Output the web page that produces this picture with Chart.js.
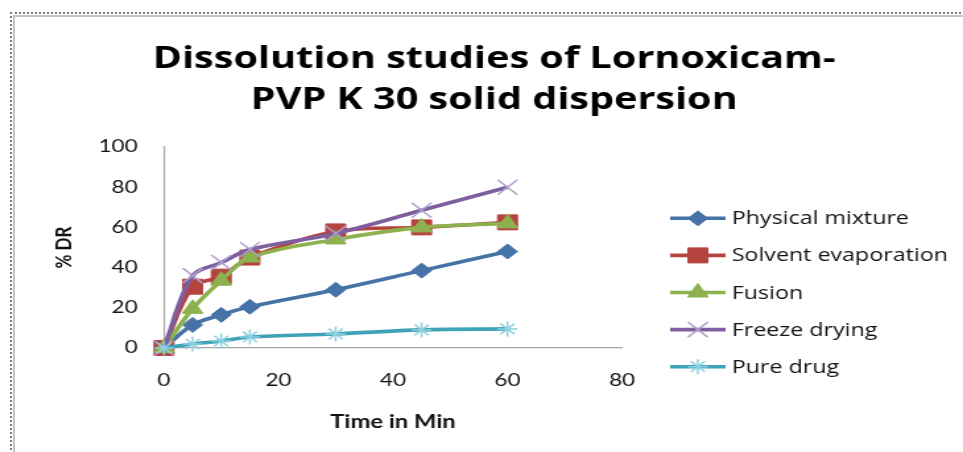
<!DOCTYPE html>
<html>
<head>
<meta charset="utf-8">
<script src="https://cdn.jsdelivr.net/npm/chart.js@4.4.1/dist/chart.umd.min.js"></script>
<style>
  html, body { margin: 0; padding: 0; background: #fff; overflow: hidden; }
  body { width: 963px; height: 452px; position: relative; }
  /* the chart is laid out narrow and stretched sideways to the full width */
  #wrap { position: absolute; left: 0; top: 0; width: 730px; height: 452px;
          transform: scaleX(1.3192); transform-origin: 0 0; }
  .frame { position: absolute; right: -10px; bottom: -10px; }
  #outer { left: 10px; top: 12px; border-top: 2px dotted #7a7a7a; border-left: 2px dotted #7a7a7a; }
  #inner { left: 13px; top: 15px; border-top: 2px solid #c4c4c4; border-left: 2px solid #c4c4c4; }
</style>
</head>
<body>
<div id="wrap"><canvas id="myLineChart"></canvas></div>
<div class="frame" id="outer"></div>
<div class="frame" id="inner"></div>
<script>
// Dissolution data (% drug released vs time)
const times = [0, 5, 10, 15, 30, 45, 60];
const physicalMixture = [0, 11.5, 16.5, 20.5, 29, 38.5, 48];
const solventEvaporation = [0, 30.5, 35.5, 45, 58, 60, 62.5];
const fusion = [0, 19.5, 33.5, 45, 54, 60, 62];
const freezeDrying = [0, 36, 42.5, 49, 57, 68.5, 80];
const pureDrug = [0, 2, 3.5, 5.5, 7, 9, 9.5];

const seriesNames = ['Physical mixture', 'Solvent evaporation', 'Fusion', 'Freeze drying', 'Pure drug'];
const titleLines = ['Dissolution studies of Lornoxicam-', 'PVP K 30 solid dispersion'];
const xTicks = [0, 20, 40, 60, 80];
const yTicks = [0, 20, 40, 60, 80, 100];

const toPoints = vals => vals.map((v, i) => ({ x: times[i], y: v }));

function series(label, values, color, style, radius, markerColor, order) {
    return {
        label: label,
        data: toPoints(values),
        borderColor: color,
        borderWidth: 3.6,
        tension: 0.35,
        pointStyle: style,
        pointRadius: radius,
        pointHoverRadius: radius,
        pointBackgroundColor: markerColor || color,
        pointBorderColor: markerColor || color,
        pointBorderWidth: markerColor ? 1.5 : 1,
        clip: false,
        order: order
    };
}

const datasets = [
    series(seriesNames[0], physicalMixture, '#4572A7', 'rectRot', 7.5, null, 5),
    series(seriesNames[1], solventEvaporation, '#B5443F', 'rect', 10.6, null, 4),
    series(seriesNames[2], fusion, '#8DB14E', 'triangle', 9, null, 3),
    series(seriesNames[3], freezeDrying, '#7D5FA0', 'crossRot', 10.6, '#AE9FCC', 2),
    series(seriesNames[4], pureDrug, '#3FA3B9', 'star', 7.5, '#8ED0E2', 1)
];

// Title and legend (line + marker + label)
const decorations = {
    id: 'decorations',
    afterDraw(chart) {
        const ctx = chart.ctx;
        ctx.save();
        ctx.fillStyle = '#000';
        ctx.textAlign = 'center';
        ctx.textBaseline = 'alphabetic';
        ctx.font = 'bold 30px "Open Sans"';
        titleLines.forEach((t, i) => ctx.fillText(t, 374.6, 68 + i * 41));

        ctx.font = '17.6px "Open Sans"';
        ctx.textAlign = 'left';
        ctx.textBaseline = 'middle';
        chart.data.datasets.forEach((ds, i) => {
            const y = 218.3 + i * 37.1;
            ctx.strokeStyle = ds.borderColor;
            ctx.lineWidth = ds.borderWidth;
            ctx.beginPath();
            ctx.moveTo(508, y);
            ctx.lineTo(550, y);
            ctx.stroke();
            ctx.fillStyle = ds.pointBackgroundColor;
            ctx.strokeStyle = ds.pointBorderColor;
            ctx.lineWidth = ds.pointBorderWidth;
            Chart.helpers.drawPoint(ctx, {
                pointStyle: ds.pointStyle,
                radius: ds.pointRadius,
                borderWidth: ds.pointBorderWidth,
                rotation: 0
            }, 529, y);
            ctx.fillStyle = '#111';
            ctx.fillText(ds.label, 554.7, y + 1);
        });
        ctx.restore();
    }
};

const ctx = document.getElementById('myLineChart').getContext('2d');
const myLineChart = new Chart(ctx, {
    type: 'line',
    data: { datasets: datasets },
    options: {
        responsive: true,
        maintainAspectRatio: false,
        animation: false,
        events: [],
        layout: { padding: { left: 20, right: 258.5, top: 147, bottom: 4 } },
        plugins: {
            legend: { display: false },
            title: { display: false },
            tooltip: { enabled: false }
        },
        scales: {
            x: {
                type: 'linear',
                min: 0,
                max: 80,
                afterFit: s => { s.height = 100; },
                afterBuildTicks: s => { s.ticks = xTicks.map(v => ({ value: v })); },
                grid: { display: false, drawTicks: false },
                border: { display: true, color: '#a3a3a3', width: 1.2 },
                ticks: { color: '#111', font: { family: 'Lato', size: 17 }, padding: 22 },
                title: {
                    display: true,
                    text: 'Time in Min',
                    color: '#111',
                    font: { family: 'Lato', size: 18, weight: 'bold' },
                    padding: { top: 0, bottom: 15 }
                }
            },
            y: {
                min: 0,
                max: 100,
                afterFit: s => { s.width = 104.3; },
                afterBuildTicks: s => { s.ticks = yTicks.map(v => ({ value: v })); },
                grid: { display: false, drawTicks: false },
                border: { display: true, color: '#a3a3a3', width: 1.2 },
                ticks: { color: '#111', font: { family: 'Lato', size: 17 }, padding: 20 },
                title: {
                    display: true,
                    text: '% DR',
                    color: '#111',
                    font: { family: 'Lato', size: 17, weight: 'bold' },
                    padding: { top: 18, bottom: 0 }
                }
            }
        }
    },
    plugins: [decorations]
});
</script>
</body>
</html>
